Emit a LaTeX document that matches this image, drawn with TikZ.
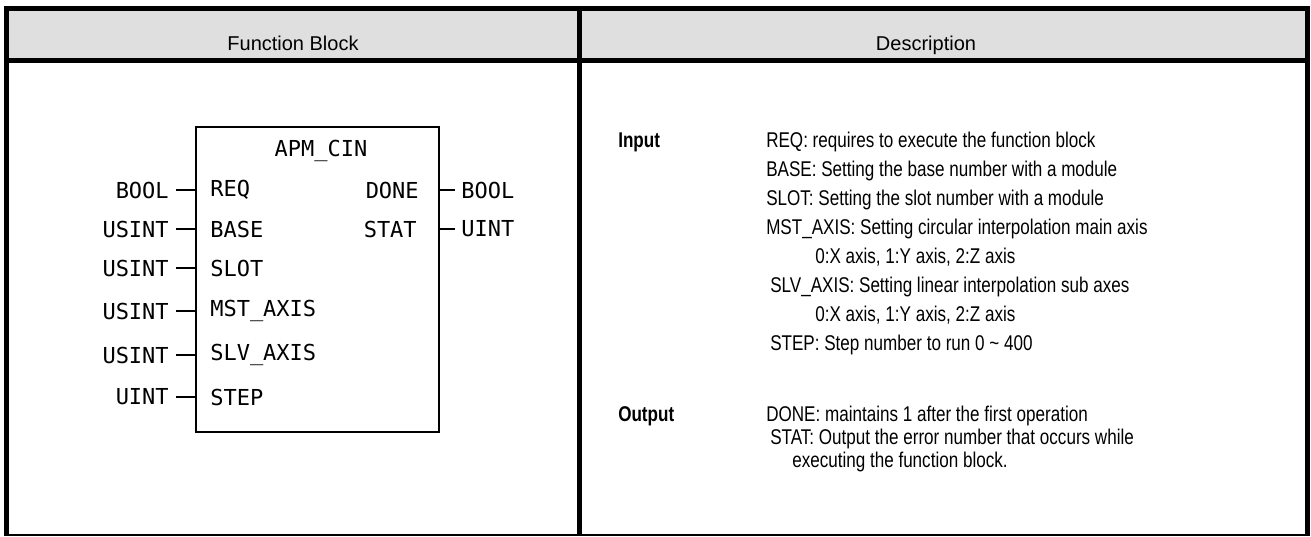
\documentclass[tikz,border=0pt]{standalone}
\usepackage{fontspec}
\setmainfont{Liberation Sans}
\newfontfamily\descfont[FakeStretch=0.8]{Liberation Sans}
\newfontfamily\blockfont{DejaVu Sans Mono}
\begin{document}
\begin{tikzpicture}[x=0.75pt,y=-0.75pt,
  hdr/.style={font=\fontsize{15}{17}\selectfont, anchor=base, inner sep=0pt},
  desc/.style={font=\descfont\fontsize{16}{18}\selectfont, anchor=base west, inner sep=0pt},
  lbl/.style={font=\descfont\fontsize{16}{18}\selectfont\bfseries, anchor=base west, inner sep=0pt},
  fb/.style={font=\blockfont\fontsize{16.5}{18}\selectfont, inner sep=0pt},
  frame/.style={line width=3.75pt},
  lead/.style={line width=2pt}]
\useasboundingbox (0,0) rectangle (1311,536);
% header fill
\fill[fill={rgb,255:red,223;green,223;blue,223}] (6.5,8.2) rectangle (1307.5,60.2);
% table lines
\draw[frame] (6.5,6) -- (6.5,536);
\draw[frame] (1307.5,6) -- (1307.5,536);
\draw[frame] (4,8.2) -- (1310,8.2);
\draw[frame] (4,60.2) -- (1310,60.2);
\draw[frame] (579.2,6) -- (579.2,536);
\draw[line width=1.5pt] (4,535) -- (1310,535);
\node[hdr] (h1) at (293,50) {Function Block};
\node[hdr] (h2) at (926,50) {Description};
% function block
\node[draw, line width=1.6pt, inner sep=0pt, anchor=north west,
  minimum width=182.5pt, minimum height=228.75pt] (fbk) at (194.5,126) {};
\node[fb] (title) at (321,151) {APM\_CIN};
\foreach \nm/\yy/\ty in {REQ/190/BOOL, BASE/229/USINT, SLOT/268/USINT, MST\_AXIS/311/USINT, SLV\_AXIS/355/USINT, STEP/397/UINT}{
  \node[fb, anchor=west] at (210,\yy) {\nm};
  \node[fb, anchor=east] at (169,\yy) {\ty};
  \coordinate (l\yy) at (176,\yy);
  \draw[lead] (l\yy) -- (fbk.west |- l\yy);
}
\node[fb, anchor=east] (done) at (419,190) {DONE};
\node[fb, anchor=east] (stat) at (417,229) {STAT};
\node[fb, anchor=west] (o1) at (461,190) {BOOL};
\node[fb, anchor=west] (o2) at (461,229) {UINT};
\coordinate (r1) at (455,190);
\coordinate (r2) at (455,229);
\draw[lead] (fbk.east |- r1) -- (r1);
\draw[lead] (fbk.east |- r2) -- (r2);
% description
\node[lbl] (in) at (618,147) {Input};
\node[lbl] (out) at (618,421) {Output};
\node[desc] at (766,147) {REQ: requires to execute the function block};
\node[desc] at (766,176) {BASE: Setting the base number with a module};
\node[desc] at (766,205) {SLOT: Setting the slot number with a module};
\node[desc] at (766,234) {MST\_AXIS: Setting circular interpolation main axis};
\node[desc] at (815,263) {0:X axis, 1:Y axis, 2:Z axis};
\node[desc] at (770,292) {SLV\_AXIS: Setting linear interpolation sub axes};
\node[desc] at (815,321) {0:X axis, 1:Y axis, 2:Z axis};
\node[desc] at (770,350) {STEP: Step number to run 0 \textasciitilde{} 400};
\node[desc] at (766,421) {DONE: maintains 1 after the first operation};
\node[desc] at (770,444) {STAT: Output the error number that occurs while};
\node[desc] at (792,467) {executing the function block.};
\end{tikzpicture}
\end{document}
